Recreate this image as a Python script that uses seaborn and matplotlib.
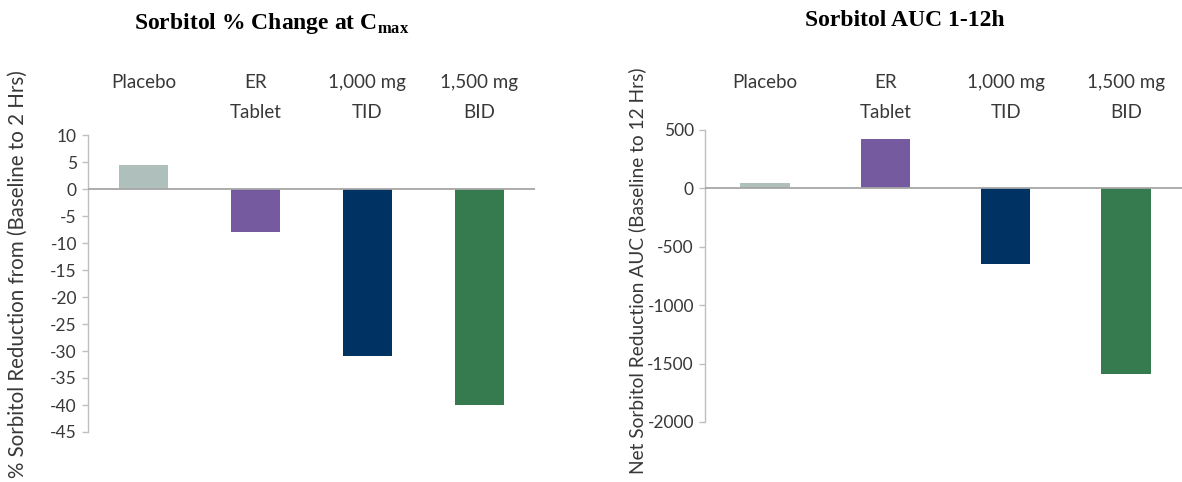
import matplotlib
matplotlib.use("Agg")
import matplotlib.pyplot as plt
import seaborn as sns
import pandas as pd

# Treatment groups and their colours
groups = ["Placebo", "ER\nTablet", "1,000 mg\nTID", "1,500 mg\nBID"]
group_colors = ["#AEBFBC", "#765AA0", "#003263", "#357B4F"]

# % change in sorbitol at Cmax (baseline to 2 h)
pct_change = [4.5, -8.0, -31.0, -40.0]
# Net sorbitol reduction AUC (baseline to 12 h)
auc_change = [50, 420, -650, -1590]

left_ticks = list(range(-45, 11, 5))
right_ticks = list(range(-2000, 501, 500))

sns.set_theme(style="white")
plt.rcParams["font.family"] = ["Lato", "DejaVu Sans"]
plt.rcParams["mathtext.fontset"] = "custom"
plt.rcParams["mathtext.bf"] = "Liberation Serif:bold"
plt.rcParams["mathtext.rm"] = "Liberation Serif:bold"

W, H = 1182, 482
fig = plt.figure(figsize=(W / 100, H / 100), dpi=100)

def frac_box(x0, x1, ytop, ybot):
    return [x0 / W, 1 - ybot / H, (x1 - x0) / W, (ybot - ytop) / H]

ax1 = fig.add_axes(frac_box(88, 535, 135, 432))
ax2 = fig.add_axes(frac_box(705, 1186, 130, 422))

text_col = "#383838"
spine_col = "#BFBFBF"
zero_col = "#A6A6A6"

def draw_panel(ax, values, ticks, width, pad):
    df = pd.DataFrame({"group": groups, "value": values})
    sns.barplot(data=df, x="group", y="value", hue="group", palette=group_colors,
                order=groups, hue_order=groups, width=width, legend=False,
                saturation=1, ax=ax, edgecolor="none")
    ax.set_xlim(-0.5, 3.5)
    ax.set_ylim(ticks[0], ticks[-1])
    ax.set_yticks(ticks)
    ax.set_yticklabels([str(t) for t in ticks], color=text_col, fontsize=12.5)
    ax.axhline(0, color=zero_col, lw=1.3, zorder=3)
    for s in ["top", "right", "bottom"]:
        ax.spines[s].set_visible(False)
    ax.spines["left"].set_color(spine_col)
    ax.spines["left"].set_linewidth(1.0)
    ax.tick_params(axis="y", direction="out", length=4, width=1.0,
                   color=spine_col, pad=4, left=True)
    ax.xaxis.tick_top()
    ax.tick_params(axis="x", top=False, bottom=False, labeltop=True,
                   labelbottom=False, pad=pad)
    ax.set_xticks(range(len(groups)))
    labels = [g if "\n" in g else g + "\n" for g in groups]
    ax.set_xticklabels(labels, color=text_col, fontsize=13.5, linespacing=1.95)
    ax.set_xlabel("")
    ax.set_ylabel("")

draw_panel(ax1, pct_change, left_ticks, 0.44, 4)
draw_panel(ax2, auc_change, right_ticks, 0.41, 0.5)

fig.text(272 / W, 1 - 23 / H, r"Sorbitol % Change at C$_{\mathbf{max}}$",
         family="Liberation Serif", fontweight="bold", fontsize=17,
         ha="center", va="center", color="black")
fig.text(905 / W, 1 - 21 / H, "Sorbitol AUC 1-12h",
         family="Liberation Serif", fontweight="bold", fontsize=17,
         ha="center", va="center", color="black")

fig.text(18 / W, 1 - 70 / H, "% Sorbitol Reduction from (Baseline to 2 Hrs)",
         rotation=90, ha="center", va="top", fontsize=14.8, color=text_col)
fig.text(637 / W, 1 - 68 / H, "Net Sorbitol Reduction AUC (Baseline to 12 Hrs)",
         rotation=90, ha="center", va="top", fontsize=13.8, color=text_col)

fig.savefig("out.png", dpi=100, facecolor="white")
